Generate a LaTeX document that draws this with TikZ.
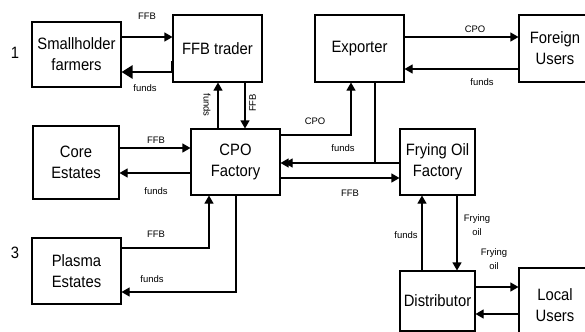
\documentclass[tikz,border=0pt]{standalone}
\usepackage{fontspec}
\setmainfont{Liberation Sans}
\newfontfamily\narrowsans[FakeStretch=0.9]{Liberation Sans}
\usetikzlibrary{arrows.meta}
\newcommand\boxtextfont{\narrowsans\fontsize{16.5}{21}\selectfont}
\newcommand\flowtextfont{\fontsize{9.5}{14}\selectfont}
\tikzset{
  box/.style={draw, line width=1.1bp, align=center, font=\boxtextfont,
              inner sep=0pt, minimum width=#1},
  box/.default=89bp,
  flow/.style={line width=1.1bp, -{Triangle[length=8bp,width=9bp]}},
  bigflow/.style={line width=2.6bp, -{Triangle[length=11bp,width=13bp]}},
  lbl/.style={font=\flowtextfont, align=center, inner sep=0pt},
  tag/.style={font=\boxtextfont, inner sep=0pt}
}
\begin{document}
\begin{tikzpicture}[x=1bp,y=-1bp]
\useasboundingbox (0,0) rectangle (585,331);
\clip (0,0) rectangle (585,331);

% actors
\node[box, minimum height=65bp] (sh) at (76.5,54.5) {Smallholder\\farmers};
\node[box, minimum height=67bp] (tr) at (217.5,48.5) {FFB trader};
\node[box, minimum height=67bp] (ex) at (359.5,48.5) {Exporter};
\node[box=72bp, minimum height=67bp] (fu) at (555,48.5) {Foreign\\Users};
\node[box=86bp, minimum height=73bp] (ce) at (76,162.5) {Core\\Estates};
\node[box, minimum height=66bp] (cpo) at (235.5,162) {CPO\\Factory};
\node[box=75bp, minimum height=66bp] (fof) at (437.5,162) {Frying Oil\\Factory};
\node[box, minimum height=66bp] (pe) at (76.5,271) {Plasma\\Estates};
\node[box=75bp, minimum height=60bp] (di) at (437.5,301) {Distributor};
\node[box=72bp, minimum height=74bp] (lu) at (555,305) {Local\\Users};

\node[tag] (n1) at (15,53) {1};
\node[tag] (n3) at (15,253) {3};

% smallholders and trader
\draw[flow] (sh.east |- 0,37) -- (tr.west |- 0,37);
\draw[bigflow] (tr.west |- 0,61) -- (tr.west |- 0,72) -- (sh.east |- 0,72);
\node[lbl] at (147,16) {FFB};
\node[lbl] at (145,88) {funds};

% trader and CPO factory
\draw[flow] (cpo.north -| 218,0) -- (tr.south -| 218,0);
\draw[flow] (tr.south -| 245,0) -- (cpo.north -| 245,0);
\node[lbl, rotate=-90] at (207,105) {funds};
\node[lbl, rotate=90] at (252.5,103) {FFB};

% core estates
\draw[flow] (ce.east |- 0,148) -- (cpo.west |- 0,148);
\draw[flow] (cpo.west |- 0,173) -- (ce.east |- 0,173);
\node[lbl] at (156,140) {FFB};
\node[lbl] at (156,191) {funds};

% plasma estates
\draw[flow] (pe.east |- 0,248) -| (cpo.south -| 209,0);
\draw[flow] (cpo.south -| 236,0) |- (pe.east |- 0,292);
\node[lbl] at (156,234) {FFB};
\node[lbl] at (152,279) {funds};

% CPO factory, exporter and frying oil factory
\draw[flow] (cpo.east |- 0,135) -| (ex.south -| 351,0);
\draw[flow] (ex.south -| 375,0) |- ([xshift=4bp]cpo.east |- 0,163);
\draw[flow] (fof.west |- 0,163) -- (cpo.east |- 0,163);
\draw[flow] (cpo.east |- 0,178) -- (fof.west |- 0,178);
\node[lbl] at (315,121) {CPO};
\node[lbl] at (343,148) {funds};
\node[lbl] at (350,193) {FFB};

% exporter and foreign users
\draw[flow] (ex.east |- 0,37) -- (fu.west |- 0,37);
\draw[flow] (fu.west |- 0,69) -- (ex.east |- 0,69);
\node[lbl] at (475,29) {CPO};
\node[lbl] at (482,82) {funds};

% frying oil factory and distributor
\draw[flow] (di.north -| 422,0) -- (fof.south -| 422,0);
\draw[flow] (fof.south -| 457,0) -- (di.north -| 457,0);
\node[lbl] at (406,235) {funds};
\node[lbl] at (477,225) {Frying\\oil};

% distributor and local users
\draw[flow] (di.east |- 0,287) -- (lu.west |- 0,287);
\draw[flow] (lu.west |- 0,314) -- (di.east |- 0,314);
\node[lbl] at (494,259) {Frying\\oil};
\end{tikzpicture}
\end{document}
